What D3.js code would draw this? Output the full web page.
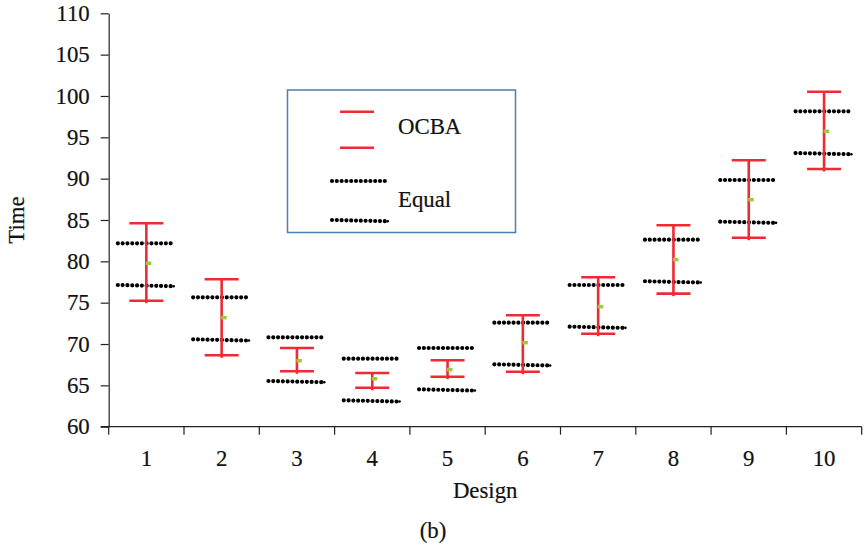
<!DOCTYPE html>
<html>
<head>
<meta charset="utf-8">
<script src="https://cdn.jsdelivr.net/npm/d3@7"></script>
<style>
  body { margin: 0; background: #fff; }
  text { font-family: "Liberation Serif", "Times New Roman", serif; fill: #111; stroke: #111; stroke-width: 0.2px; }
</style>
</head>
<body>
<svg id="chart" width="867" height="548"></svg>
<script>
// Design alternatives on the x axis
const designs = ["1", "2", "3", "4", "5", "6", "7", "8", "9", "10"];
// OCBA confidence interval bounds
const ocbaUpper = [84.6, 77.83, 69.52, 66.5, 68.03, 73.48, 78.07, 84.36, 92.22, 100.52];
const ocbaLower = [75.24, 68.64, 66.7, 64.72, 66.05, 66.65, 71.25, 76.09, 82.86, 91.17];
// Sample means
const means = [79.77, 73.19, 67.98, 65.8, 66.9, 70.16, 74.52, 80.2, 87.46, 95.73];
// Equal-allocation confidence interval bounds
const equalUpper = [82.18, 75.65, 70.81, 68.23, 69.52, 72.58, 77.14, 82.62, 89.84, 98.15];
const equalLower = [77.14, 70.57, 65.53, 63.19, 64.52, 67.55, 72.1, 77.59, 84.8, 93.1];
// Y tick labels
const yTickValues = [60, 65, 70, 75, 80, 85, 90, 95, 100, 105, 110];
const legendLabels = ["OCBA", "Equal"];

const FONT = 22.8;
const svg = d3.select("#chart");
const plot = { left: 108.7, right: 861.7, top: 13.3, bottom: 426.7 };

const x = d3.scaleBand().domain(designs).range([plot.left, plot.right]).padding(0);
const y = d3.scaleLinear().domain([60, 110]).range([plot.bottom, plot.top]);

const RED = "#ee2a33";
const AXIS = "#222";

// Y axis
const yAxis = svg.append("g")
  .attr("transform", `translate(${plot.left},0)`)
  .call(d3.axisLeft(y).tickValues(yTickValues).tickSize(8).tickSizeOuter(0).tickPadding(11));
yAxis.select(".domain").attr("stroke", AXIS).attr("stroke-width", 1.2);
yAxis.selectAll(".tick line").attr("stroke", AXIS).attr("stroke-width", 1.2);
yAxis.selectAll(".tick text").attr("font-size", FONT).attr("fill", "#111");

// X axis: category labels at band centres
const xAxis = svg.append("g")
  .attr("transform", `translate(0,${plot.bottom})`)
  .call(d3.axisBottom(x).tickSize(0).tickPadding(23.5));
xAxis.select(".domain").remove();
xAxis.selectAll(".tick text").attr("font-size", FONT).attr("fill", "#111");

// X axis line and ticks on band boundaries
const xLine = svg.append("g").attr("transform", `translate(0,${plot.bottom})`);
xLine.append("line")
  .attr("x1", plot.left - 8).attr("x2", plot.right)
  .attr("stroke", AXIS).attr("stroke-width", 1.2);
xLine.selectAll("line.bt")
  .data(d3.range(designs.length + 1))
  .join("line")
  .attr("class", "bt")
  .attr("x1", i => plot.left + i * x.step())
  .attr("x2", i => plot.left + i * x.step())
  .attr("y1", 0).attr("y2", 8)
  .attr("stroke", AXIS).attr("stroke-width", 1.2);

// Axis titles and caption
svg.append("text")
  .attr("x", (plot.left + plot.right) / 2).attr("y", 497.5)
  .attr("text-anchor", "middle").attr("font-size", FONT)
  .text("Design");
svg.append("text")
  .attr("transform", `translate(23.5,${(plot.top + plot.bottom) / 2}) rotate(-90)`)
  .attr("text-anchor", "middle").attr("font-size", FONT)
  .text("Time");
svg.append("text")
  .attr("x", 433).attr("y", 537.5)
  .attr("text-anchor", "middle").attr("font-size", FONT)
  .text("(b)");

const rows = designs.map((d, i) => ({
  d, cx: x(d) + x.bandwidth() / 2,
  oU: ocbaUpper[i], oL: ocbaLower[i], m: means[i], eU: equalUpper[i], eL: equalLower[i]
}));

// Dotted line helper: upper lines are level, lower ones dip slightly with a trailing dot
function dotted(g, x0, x1, yy, drop, tail) {
  g.append("line")
    .attr("x1", x0).attr("x2", x1)
    .attr("y1", yy).attr("y2", yy + drop)
    .attr("stroke", "#000").attr("stroke-width", 4.2)
    .attr("stroke-linecap", "round")
    .attr("stroke-dasharray", "0 4.8");
  if (tail) {
    g.append("circle").attr("cx", x1 + 2.8).attr("cy", yy + drop).attr("r", 1.3).attr("fill", "#000");
  }
}

// Equal allocation bounds
const eq = svg.append("g");
rows.forEach(r => {
  dotted(eq, r.cx - 28.5, r.cx + 24.5, y(r.eU), 0, false);
  dotted(eq, r.cx - 28.5, r.cx + 24.5, y(r.eL), 1.2, true);
});

// OCBA error bars
const ob = svg.append("g").attr("stroke", RED).attr("stroke-width", 2.6);
ob.selectAll("line.v").data(rows).join("line").attr("class", "v")
  .attr("x1", r => r.cx).attr("x2", r => r.cx)
  .attr("y1", r => y(r.oU)).attr("y2", r => y(r.oL) + 2.5);
ob.selectAll("line.t").data(rows).join("line").attr("class", "t")
  .attr("x1", r => r.cx - 17).attr("x2", r => r.cx + 17)
  .attr("y1", r => y(r.oU)).attr("y2", r => y(r.oU));
ob.selectAll("line.b").data(rows).join("line").attr("class", "b")
  .attr("x1", r => r.cx - 17).attr("x2", r => r.cx + 17)
  .attr("y1", r => y(r.oL)).attr("y2", r => y(r.oL));

// Means
svg.append("g").selectAll("rect").data(rows).join("rect")
  .attr("x", r => r.cx - 0.5).attr("y", r => y(r.m) - 1.75)
  .attr("width", 5.5).attr("height", 3.5)
  .attr("fill", "#9bcb3b");

// Legend
const lg = svg.append("g");
lg.append("rect")
  .attr("x", 287.5).attr("y", 90).attr("width", 228).attr("height", 142.5)
  .attr("fill", "#fff").attr("stroke", "#4a7eb5").attr("stroke-width", 1.5);
lg.append("line").attr("x1", 340).attr("x2", 374).attr("y1", 111.7).attr("y2", 111.7)
  .attr("stroke", RED).attr("stroke-width", 2.6);
lg.append("line").attr("x1", 340).attr("x2", 374).attr("y1", 147.7).attr("y2", 147.7)
  .attr("stroke", RED).attr("stroke-width", 2.6);
dotted(lg, 332, 385, 181, 0, false);
dotted(lg, 332, 385, 220, 1.2, true);
lg.append("text").attr("x", 398).attr("y", 134).attr("font-size", FONT).text(legendLabels[0]);
lg.append("text").attr("x", 398).attr("y", 206.5).attr("font-size", FONT).text(legendLabels[1]);
</script>
</body>
</html>
